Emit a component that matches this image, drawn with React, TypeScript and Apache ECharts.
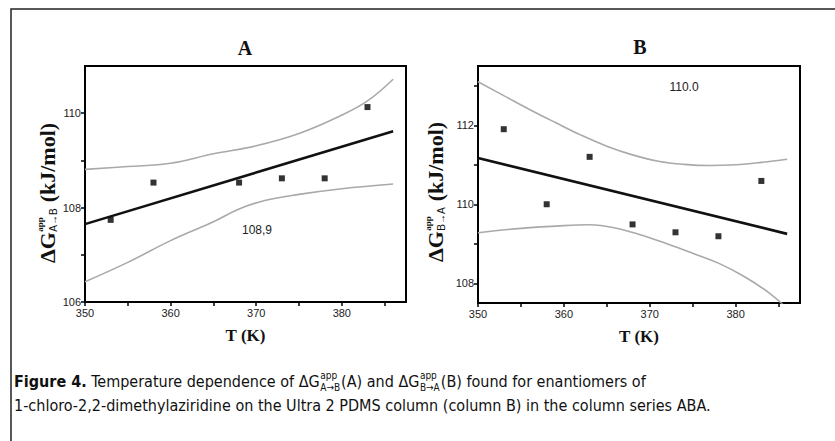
import React, { useEffect, useRef } from 'react';
import * as echarts from 'echarts';

// ---- data ----
const tempsA = [353, 358, 368, 373, 378, 383];
const dGA = [107.74, 108.53, 108.53, 108.62, 108.62, 110.13];
const tempsB = [353, 358, 363, 368, 373, 378, 383];
const dGB = [111.9, 110.0, 111.2, 109.49, 109.29, 109.19, 110.59];

const fitX = [350, 386];
const fitA = [107.65, 109.62];
const fitB = [111.17, 109.25];

const upperXA = [350, 355, 360, 365, 370, 375, 380, 383, 386];
const upperA = [108.81, 108.87, 108.94, 109.14, 109.31, 109.57, 109.96, 110.26, 110.72];
const lowerXA = [350, 355, 360, 365, 368, 371, 375, 380, 386];
const lowerA = [106.43, 106.84, 107.3, 107.7, 107.97, 108.15, 108.28, 108.4, 108.5];

const upperXB = [350, 353, 356, 359, 362, 365, 368, 371, 374, 377, 380, 383, 386];
const upperB = [113.1, 112.75, 112.4, 112.07, 111.75, 111.47, 111.25, 111.09, 111.01, 110.98, 111.0, 111.06, 111.14];
const lowerXB = [350, 355, 360, 363, 366, 369, 372, 375, 378, 381, 384, 386];
const lowerB = [109.28, 109.39, 109.46, 109.48, 109.4, 109.22, 109.0, 108.76, 108.51, 108.17, 107.74, 107.36];

const xMajor = [350, 360, 370, 380];
const xMinor = [350, 355, 360, 365, 370, 375, 380, 385];
const yMajorA = [106, 108, 110];
const yMinorA = [106, 107, 108, 109, 110];
const yMajorB = [108, 110, 112];
const yMinorB = [108, 109, 110, 111, 112, 113];

const noteA = '108,9';
const noteB = '110.0';

const SERIF = "'Liberation Serif', 'Times New Roman', serif";
const SANS = "'Liberation Sans', Arial, sans-serif";
const CAP = "'Liberation Sans Narrow', 'DejaVu Sans Condensed', 'Open Sans', sans-serif";

const zip = (xs: number[], ys: number[]) => xs.map((x, i) => [x, ys[i]]);

let ctx: CanvasRenderingContext2D | null = null;
function measure(text: string, weight: string, size: number, family: string) {
  if (!ctx) ctx = document.createElement('canvas').getContext('2d');
  ctx!.font = `${weight} ${size}px ${family}`;
  return ctx!.measureText(text).width;
}

function t(x: number, y: number, text: string, size: number, family: string, weight = 'normal', align = 'left', fill = '#111') {
  return {
    type: 'text', x, y, silent: true,
    style: { text, fontSize: size, fontFamily: family, fontWeight: weight, fill, textAlign: align, textVerticalAlign: 'middle' },
  };
}

function yLabel(cx: number, cy: number, sub: string) {
  const big = 22;
  const w1 = measure('ΔG', 'bold', big, SERIF);
  const wSup = measure('app', 'bold', 9, SERIF);
  const wSub = measure(sub, 'normal', 10, SANS);
  const ws = Math.max(wSup, wSub) + 1;
  const w3 = measure(' (kJ/mol)', 'bold', big, SERIF);
  const W = w1 + ws + w3;
  const x0 = -W / 2;
  return {
    type: 'group', x: cx, y: cy, rotation: Math.PI / 2,
    children: [
      t(x0, 0, 'ΔG', big, SERIF, 'bold'),
      t(x0 + w1 + 0.5, -7, 'app', 9, SERIF, 'bold'),
      t(x0 + w1 + 0.5, 6, sub, 10, SANS),
      t(x0 + w1 + ws, 0, ' (kJ/mol)', big, SERIF, 'bold'),
    ],
  };
}

function caption() {
  const size = 16;
  const els: any[] = [];
  let x = 14;
  const y1 = 381, y2 = 405;
  const push = (text: string, weight = 'normal') => {
    els.push(t(x, y1, text, size, CAP, weight));
    x += measure(text, weight, size, CAP);
  };
  const stack = (sub: string) => {
    const ws = Math.max(measure('app', 'normal', 10, CAP), measure(sub, 'normal', 10, CAP));
    els.push(t(x + 0.5, y1 - 6, 'app', 10, CAP));
    els.push(t(x + 0.5, y1 + 6, sub, 10, CAP));
    x += ws + 1.5;
  };
  push('Figure 4.', 'bold');
  push(' Temperature dependence of ΔG');
  stack('A→B');
  push('(A) and ΔG');
  stack('B→A');
  push('(B) found for enantiomers of');
  els.push(t(14, y2, '1-chloro-2,2-dimethylaziridine on the Ultra 2 PDMS column (column B) in the column series ABA.', size, CAP));
  return els;
}

function axes(gi: number, yMin: number, yMax: number, yMaj: number[], yMin2: number[]) {
  const line = { show: true, onZero: false, lineStyle: { color: '#000', width: 2 } };
  const lab = { color: '#222', fontSize: 11, fontFamily: SANS };
  const x = {
    type: 'value', gridIndex: gi, min: 350, max: 387.5,
    axisLine: line,
    axisTick: { show: true, inside: false, length: 4, customValues: xMinor, lineStyle: { color: '#000', width: 1.5 } },
    axisLabel: { ...lab, margin: 5, customValues: xMajor },
    splitLine: { show: false },
    name: 'T (K)', nameLocation: 'middle', nameGap: 25,
    nameTextStyle: { fontFamily: SERIF, fontWeight: 'bold', fontSize: 17, color: '#111' },
  };
  const y = {
    type: 'value', gridIndex: gi, min: yMin, max: yMax,
    axisLine: line,
    axisTick: { show: true, inside: false, length: 4, customValues: yMin2, lineStyle: { color: '#000', width: 1.5 } },
    axisLabel: { ...lab, margin: 4, customValues: yMaj },
    splitLine: { show: false },
  };
  return { x, y };
}

function series(gi: number, ux: number[], uy: number[], lx: number[], ly: number[], fy: number[], px: number[], py: number[]) {
  const band = { color: '#a9a9a9', width: 1.6 };
  const common = { type: 'line', xAxisIndex: gi, yAxisIndex: gi, smooth: 0.4, showSymbol: false, lineStyle: band, clip: true };
  return [
    { ...common, data: zip(ux, uy) },
    { ...common, data: zip(lx, ly) },
    { type: 'line', xAxisIndex: gi, yAxisIndex: gi, data: zip(fitX, fy), showSymbol: false, lineStyle: { color: '#111', width: 2.6 }, clip: true },
    { type: 'scatter', xAxisIndex: gi, yAxisIndex: gi, data: zip(px, py), symbol: 'rect', symbolSize: 6, itemStyle: { color: '#000' } },
  ];
}

export default function App() {
  const ref = useRef<HTMLDivElement>(null);
  useEffect(() => {
    if (!ref.current) return;
    const chart = echarts.init(ref.current, null, { renderer: 'svg' });
    const a = axes(0, 106, 111, yMajorA, yMinorA);
    const b = axes(1, 107.5, 113.5, yMajorB, yMinorB);
    chart.setOption({
      animation: false,
      backgroundColor: '#fff',
      grid: [
        { left: 85, top: 66, width: 321, height: 236, show: true, borderColor: '#000', borderWidth: 2, backgroundColor: 'transparent' },
        { left: 478, top: 66, width: 322, height: 237, show: true, borderColor: '#000', borderWidth: 2, backgroundColor: 'transparent' },
      ],
      xAxis: [a.x, b.x],
      yAxis: [a.y, b.y],
      series: [
        ...series(0, upperXA, upperA, lowerXA, lowerA, fitA, tempsA, dGA),
        ...series(1, upperXB, upperB, lowerXB, lowerB, fitB, tempsB, dGB),
      ],
      graphic: [
        { type: 'rect', silent: true, shape: { x: 11, y: 9, width: 840, height: 450 }, style: { fill: 'none', stroke: '#222', lineWidth: 1.5 } },
        t(245, 48, 'A', 20, SERIF, 'bold', 'center'),
        t(640, 47, 'B', 20, SERIF, 'bold', 'center'),
        t(257, 230, noteA, 12, SANS, 'normal', 'center', '#222'),
        t(684, 87, noteB, 12, SANS, 'normal', 'center', '#222'),
        yLabel(47, 193, 'A→B'),
        yLabel(435, 192, 'B→A'),
        ...caption(),
      ],
    });
    return () => chart.dispose();
  }, []);
  return <div ref={ref} style={{ position: 'absolute', left: 0, top: 0, width: 835, height: 441 }} />;
}
